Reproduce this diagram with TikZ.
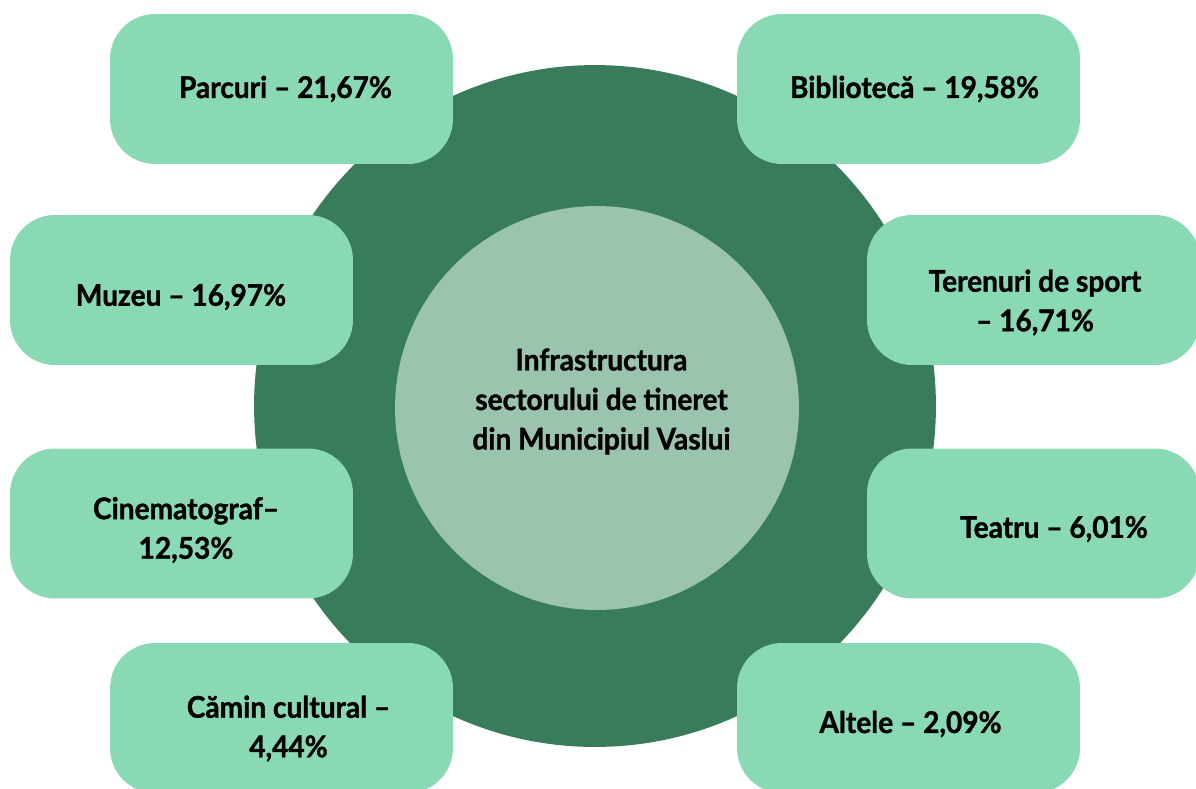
\documentclass[tikz,border=0pt]{standalone}
\usepackage{fontspec}
\setmainfont{Lato}[BoldFeatures={FakeBold=1.2,FakeStretch=0.94}]
\usepackage{tikz}
\usetikzlibrary{positioning}
\definecolor{ringgreen}{HTML}{387C5C}
\definecolor{hubgreen}{HTML}{9AC4AE}
\definecolor{boxgreen}{HTML}{8AD9B5}

\begin{document}
\begin{tikzpicture}[
        x=0.02cm, y=-0.02cm,
        ring/.style={circle, fill=ringgreen, minimum size=13.64cm, inner sep=0pt},
        hub/.style={circle, fill=hubgreen, minimum size=8.08cm, inner sep=0pt},
        box/.style={rectangle, rounded corners=0.9cm, fill=boxgreen, minimum width=6.86cm,
          minimum height=3cm, inner sep=0pt},
        boxr/.style={box, minimum width=6.66cm},
        lbl/.style={align=center, inner sep=0pt,
          font=\fontsize{17}{22.5}\selectfont\bfseries}
      ]
        \useasboundingbox (0,0) rectangle (1196,788);
        \clip (0,0) rectangle (1196,788);
        % Background circles
        \node[ring] (ring) at (595,406) {};
        \node[hub]  (hub)  at (597,408) {};
        \node[lbl]  (hub-t) at (601.5,401.5) {Infrastructura\\sectorului de tineret\\din Municipiul Vaslui};
        % Left column
        \node[box] (parcuri) at (281.5,89)    {};
        \node[box] (muzeu)   at (181.5,290)   {};
        \node[box] (cinema)  at (181.5,523.5) {};
        \node[box] (camin)   at (281.5,718)   {};
        \node[lbl] (parcuri-t) at (285.5,89)  {Parcuri – 21,67\%};
        \node[lbl] (muzeu-t)   at (181,297)   {Muzeu – 16,97\%};
        \node[lbl] (cinema-t)  at (186,530)   {Cinematograf–\\12,53\%};
        \node[lbl] (camin-t)   at (288.5,728.5) {Cămin cultural –\\4,44\%};
        % Right column
        \node[box]  (biblio)   at (908.5,89)     {};
        \node[boxr] (terenuri) at (1033.5,290)   {};
        \node[boxr] (teatru)   at (1033.5,523.5) {};
        \node[box]  (altele)   at (908.5,718)    {};
        \node[lbl] (biblio-t)   at (914.5,89)    {Bibliotecă – 19,58\%};
        \node[lbl] (terenuri-t) at (1035,302.5)  {Terenuri de sport\\– 16,71\%};
        \node[lbl] (teatru-t)   at (1054,529)    {Teatru – 6,01\%};
        \node[lbl] (altele-t)   at (910.5,724)   {Altele – 2,09\%};
      \end{tikzpicture}
\end{document}
